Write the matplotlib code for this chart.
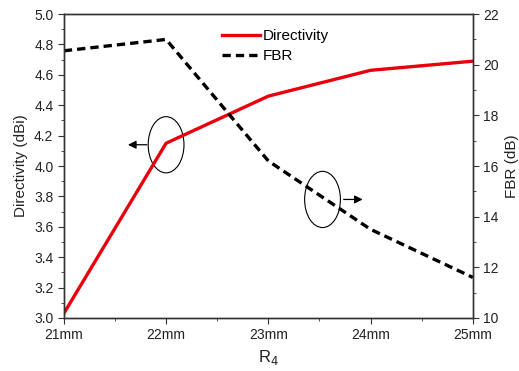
import matplotlib.pyplot as plt
from matplotlib.patches import Ellipse
from matplotlib.ticker import MultipleLocator

plt.rcParams['font.family'] = ['Liberation Sans', 'DejaVu Sans']
plt.rcParams['font.size'] = 10

r4 = [21, 22, 23, 24, 25]
r4_labels = ['21mm', '22mm', '23mm', '24mm', '25mm']
directivity = [3.03, 4.15, 4.46, 4.63, 4.69]
fbr = [20.55, 21.0, 16.2, 13.5, 11.6]

fig = plt.figure(figsize=(5.19, 3.71), dpi=100)
ax = fig.add_axes([0.123, 0.143, 0.788, 0.819])
ax2 = ax.twinx()

l1, = ax.plot(r4, directivity, color='#e8000b', lw=2.4, label='Directivity')
l2, = ax2.plot(r4, fbr, color='black', lw=2.4, ls=(0, (2.5, 1.5)), label='FBR')

ax.set_xlim(21, 25)
ax.set_ylim(3.0, 5.0)
ax2.set_ylim(10, 22)
ax.set_xticks(r4)
ax.set_xticklabels(r4_labels)
ax.xaxis.set_minor_locator(MultipleLocator(0.5))
ax.yaxis.set_major_locator(MultipleLocator(0.2))
ax.yaxis.set_minor_locator(MultipleLocator(0.1))
ax2.yaxis.set_major_locator(MultipleLocator(2))
ax2.yaxis.set_minor_locator(MultipleLocator(1))

for a in (ax, ax2):
    for s in a.spines.values():
        s.set_color('#333333')
        s.set_linewidth(1.0)
    a.tick_params(which='both', direction='out', colors='#333333', labelcolor='#222222')
    a.tick_params(which='major', length=4)
    a.tick_params(which='minor', length=2.5)

ax.set_xlabel('R$_4$', fontsize=12, color='#222222')
ax.set_ylabel('Directivity (dBi)', fontsize=11, color='#222222')
ax2.set_ylabel('FBR (dB)', fontsize=11, color='#222222')

ax.legend(handles=[l1, l2], loc='upper left', bbox_to_anchor=(0.36, 0.985), frameon=False,
          fontsize=11, handlelength=2.5, handletextpad=0.2, labelspacing=0.4, borderaxespad=0.3)

ax.add_patch(Ellipse((22.0, 4.14), 0.35, 0.37, fill=False, ec='black', lw=0.8))
ax.annotate('', xy=(21.6, 4.14), xytext=(21.84, 4.14),
            arrowprops=dict(arrowstyle='-|>', color='black', lw=0.9, mutation_scale=12))
ax.add_patch(Ellipse((23.53, 3.78), 0.35, 0.37, fill=False, ec='black', lw=0.8))
ax.annotate('', xy=(23.95, 3.78), xytext=(23.71, 3.78),
            arrowprops=dict(arrowstyle='-|>', color='black', lw=0.9, mutation_scale=12))

fig.savefig('out.png', dpi=100)
